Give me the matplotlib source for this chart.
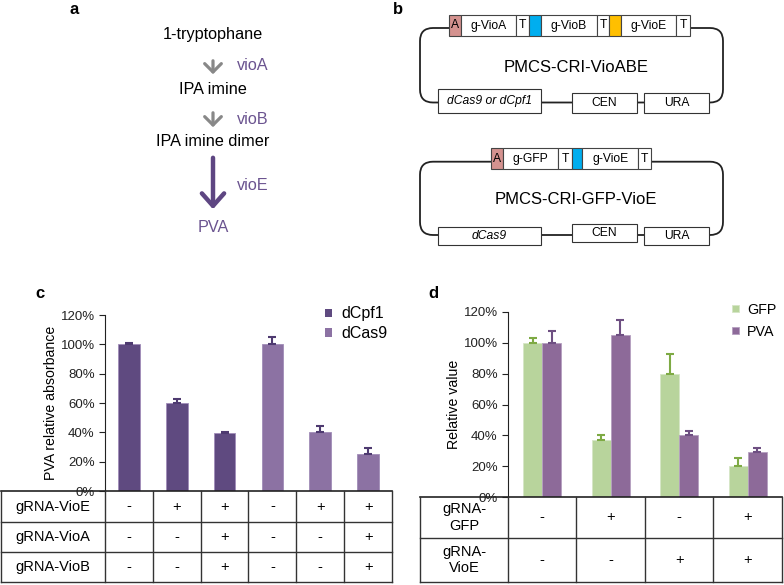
# -*- coding: utf-8 -*-
import matplotlib
matplotlib.use("Agg")
import matplotlib.pyplot as plt
from matplotlib.patches import Rectangle, FancyBboxPatch, FancyArrowPatch
from matplotlib.ticker import FuncFormatter

plt.rcParams['font.family'] = ['Liberation Sans', 'DejaVu Sans']

W, H = 784, 585

# ---- data ----
c_groups = ['dCpf1', 'dCpf1', 'dCpf1', 'dCas9', 'dCas9', 'dCas9']
c_values = [1.00, 0.60, 0.395, 1.00, 0.40, 0.255]
c_errors = [0.01, 0.03, 0.005, 0.05, 0.04, 0.04]
c_row_labels = ['gRNA-VioE', 'gRNA-VioA', 'gRNA-VioB']
c_rows = [['-', '+', '+', '-', '+', '+'],
          ['-', '-', '+', '-', '-', '+'],
          ['-', '-', '+', '-', '-', '+']]

d_gfp = [1.00, 0.37, 0.80, 0.20]
d_gfp_err = [0.03, 0.03, 0.13, 0.05]
d_pva = [1.00, 1.05, 0.40, 0.295]
d_pva_err = [0.08, 0.10, 0.03, 0.02]
d_row_labels = ['gRNA-\nGFP', 'gRNA-\nVioE']
d_rows = [['-', '+', '-', '+'],
          ['-', '-', '+', '+']]

yticks = [0, 0.2, 0.4, 0.6, 0.8, 1.0, 1.2]

col_cpf1 = '#5f4a80'
col_cas9 = '#8c72a3'
col_gfp = '#b8d49c'
col_pva = '#8d6a99'
purple_txt = '#6b5490'


def px_axes(fig, left, top, right, bottom):
    return fig.add_axes([left / W, 1 - bottom / H, (right - left) / W, (bottom - top) / H])


def style_bar_axes(ax, ylabel):
    ax.set_ylim(0, 1.2)
    ax.set_yticks(yticks)
    ax.yaxis.set_major_formatter(FuncFormatter(lambda v, p: '%d%%' % round(v * 100)))
    for s in ['top', 'right', 'bottom']:
        ax.spines[s].set_visible(False)
    ax.spines['left'].set_color('#222222')
    ax.tick_params(axis='y', direction='out', length=4, labelsize=9.5, colors='#222222')
    ax.set_xticks([])
    ax.set_ylabel(ylabel, fontsize=10.2, labelpad=2)
    ax.patch.set_alpha(0)


def draw_table(ov, x_left, x_edges, y_edges, labels, rows):
    # outline and grid
    ov.plot([x_left, x_edges[-1]], [y_edges[0], y_edges[0]], color='#222222', lw=1.2)
    for y in y_edges[1:]:
        ov.plot([x_left, x_edges[-1]], [y, y], color='#333333', lw=1)
    for x in [x_left] + list(x_edges):
        ov.plot([x, x], [y_edges[0], y_edges[-1]], color='#333333', lw=1)
    for r, lab in enumerate(labels):
        yc = (y_edges[r] + y_edges[r + 1]) / 2
        ov.text((x_left + x_edges[0]) / 2, yc, lab, ha='center', va='center', fontsize=10.5)
        for i, val in enumerate(rows[r]):
            xc = (x_edges[i] + x_edges[i + 1]) / 2
            ov.text(xc, yc, val, ha='center', va='center', fontsize=10.5)


fig = plt.figure(figsize=(W / 100, H / 100), dpi=100)
ov = fig.add_axes([0, 0, 1, 1])
ov.set_xlim(0, W)
ov.set_ylim(H, 0)
ov.axis('off')
ov.set_zorder(5)
ov.patch.set_alpha(0)

# ---- panel labels ----
for lab, x, y in [('a', 74, 10), ('b', 398, 10), ('c', 40, 293), ('d', 433, 293)]:
    ov.text(x, y, lab, fontsize=12, fontweight='bold', ha='center', va='center')

# ---- panel a ----
ax_c = 213
fs_a = 11.7
ov.text(ax_c, 35, '1-tryptophane', ha='center', va='center', fontsize=fs_a)
ov.text(ax_c, 90, 'IPA imine', ha='center', va='center', fontsize=fs_a)
ov.text(ax_c, 141, 'IPA imine dimer', ha='center', va='center', fontsize=fs_a)
ov.text(ax_c, 228, 'PVA', ha='center', va='center', fontsize=fs_a, color=purple_txt)
for y0, y1 in [(58, 77), (110, 130)]:
    ov.add_patch(FancyArrowPatch((ax_c, y0), (ax_c, y1), arrowstyle='->,head_width=6,head_length=6',
                                 color='#888888', lw=2.3, mutation_scale=1))
ov.add_patch(FancyArrowPatch((ax_c, 155), (ax_c, 212), arrowstyle='->,head_width=8,head_length=9',
                             color='#5e4682', lw=3.2, mutation_scale=1))
ov.text(237, 65, 'vioA', va='center', fontsize=fs_a, color=purple_txt)
ov.text(237, 119, 'vioB', va='center', fontsize=fs_a, color=purple_txt)
ov.text(237, 185, 'vioE', va='center', fontsize=fs_a, color=purple_txt)


# ---- panel b ----
def plasmid(top_y, bot_y, segs, gy0, gy1, title, ty, boxes):
    ov.add_patch(FancyBboxPatch((420, top_y), 723 - 420, bot_y - top_y,
                                boxstyle='round,pad=0,rounding_size=13',
                                fc='none', ec='#222222', lw=1.3))
    for x0, x1, fc, txt in segs:
        ov.add_patch(Rectangle((x0, gy0), x1 - x0, gy1 - gy0, fc=fc, ec='#444444', lw=0.8, zorder=3))
        if txt:
            ov.text((x0 + x1) / 2, (gy0 + gy1) / 2, txt, ha='center', va='center', fontsize=8.7, zorder=4)
    ov.text(576, ty, title, ha='center', va='center', fontsize=12)
    for x0, x1, y0, y1, txt, it in boxes:
        ov.add_patch(Rectangle((x0, y0), x1 - x0, y1 - y0, fc='white', ec='#333333', lw=0.8, zorder=3))
        ov.text((x0 + x1) / 2, (y0 + y1) / 2, txt, ha='center', va='center', fontsize=8.7,
                style='italic' if it else 'normal', zorder=4)


pink, blue, orange = '#d4928f', '#00aeef', '#ffbf00'
plasmid(28, 102.5,
        [(449.3, 460.7, pink, 'A'), (460.7, 516, 'white', 'g-VioA'), (516, 529.3, 'white', 'T'),
         (529.3, 540.7, blue, ''), (540.7, 596.7, 'white', 'g-VioB'), (596.7, 609.3, 'white', 'T'),
         (609.3, 620.7, orange, ''), (620.7, 676, 'white', 'g-VioE'), (676, 690, 'white', 'T')],
        15, 36, 'PMCS-CRI-VioABE', 67,
        [(438.3, 540.7, 89.3, 112.7, 'dCas9 or dCpf1', True),
         (571.7, 636.7, 92.7, 112.7, 'CEN', False),
         (644, 709.3, 92.7, 112.7, 'URA', False)])
plasmid(161.7, 235,
        [(490.7, 502.7, pink, 'A'), (502.7, 558.3, 'white', 'g-GFP'), (558.3, 571.7, 'white', 'T'),
         (571.7, 582.3, blue, ''), (582.3, 638.3, 'white', 'g-VioE'), (638.3, 650.7, 'white', 'T')],
        148.3, 169.3, 'PMCS-CRI-GFP-VioE', 199,
        [(438.3, 540.7, 226.7, 245, 'dCas9', True),
         (571.7, 636.7, 224, 242, 'CEN', False),
         (644, 709.3, 226.7, 245, 'URA', False)])

# ---- panel c ----
c_left, c_right, c_top, c_bot = 105, 392, 315, 491
axc = px_axes(fig, c_left, c_top, c_right, c_bot)
n = len(c_values)
xs = list(range(n))
colors = [col_cpf1 if g == 'dCpf1' else col_cas9 for g in c_groups]
axc.bar(xs, c_values, width=0.45, color=colors, edgecolor='#a08cb8', linewidth=0.6)
for x, v, e, col in zip(xs, c_values, c_errors, colors):
    axc.errorbar(x, v, yerr=[[0], [e]], fmt='none', ecolor='#4e3a70', elinewidth=1.5, capsize=3, capthick=1.5)
axc.set_xlim(-0.5, n - 0.5)
style_bar_axes(axc, 'PVA relative absorbance')
axc.bar([0], [0], color=col_cpf1, label='dCpf1')
axc.bar([0], [0], color=col_cas9, label='dCas9')
axc.legend(loc='upper left', bbox_to_anchor=(0.715, 1.13), frameon=False, fontsize=11.5,
           handlelength=0.45, handleheight=0.45, handletextpad=0.6, labelspacing=0.3)
step = (c_right - c_left) / n
draw_table(ov, 1, [c_left + i * step for i in range(n + 1)], [491, 522, 552, 582], c_row_labels, c_rows)

# ---- panel d ----
d_left, d_right, d_top, d_bot = 508, 782, 312, 497
axd = px_axes(fig, d_left, d_top, d_right, d_bot)
m = len(d_gfp)
xd = list(range(m))
bw = 0.28
axd.bar([x - bw / 2 for x in xd], d_gfp, width=bw, color=col_gfp, edgecolor='#d6e6c6', linewidth=0.6, label='GFP')
axd.bar([x + bw / 2 for x in xd], d_pva, width=bw, color=col_pva, edgecolor='#b59fc0', linewidth=0.6, label='PVA')
axd.errorbar([x - bw / 2 for x in xd], d_gfp, yerr=[[0] * m, d_gfp_err], fmt='none', ecolor='#7eaa44',
             elinewidth=1.5, capsize=3, capthick=1.5)
axd.errorbar([x + bw / 2 for x in xd], d_pva, yerr=[[0] * m, d_pva_err], fmt='none', ecolor='#6e4f82',
             elinewidth=1.5, capsize=3, capthick=1.5)
axd.set_xlim(-0.5, m - 0.5)
style_bar_axes(axd, 'Relative value')
axd.legend(loc='upper left', bbox_to_anchor=(0.771, 1.12), frameon=False, fontsize=10.3,
           handlelength=0.45, handleheight=0.45, handletextpad=0.6, labelspacing=0.55)
step = (d_right - d_left) / m
draw_table(ov, 420, [d_left + i * step for i in range(m + 1)], [497, 538, 582], d_row_labels, d_rows)

fig.savefig('out.png', dpi=100)
